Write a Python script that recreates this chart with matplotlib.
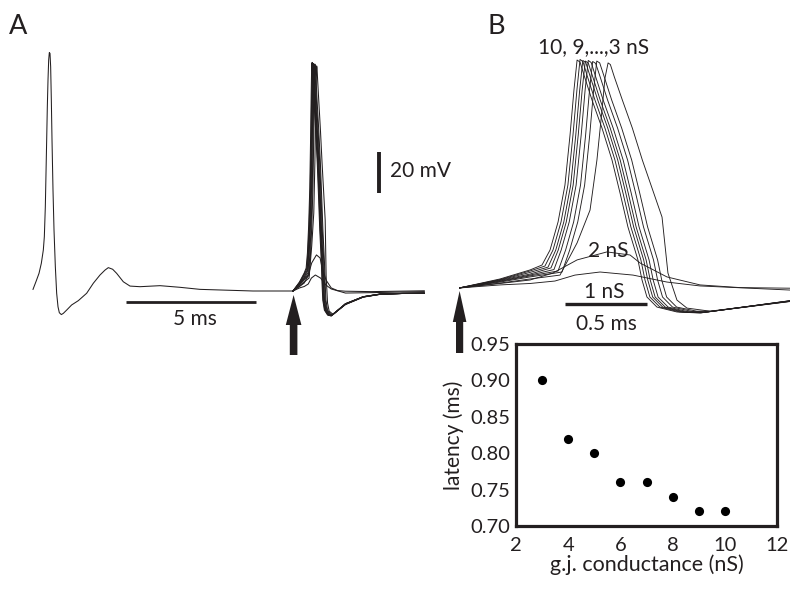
import matplotlib
matplotlib.use('Agg')
import matplotlib.pyplot as plt
from matplotlib.patches import Polygon
from matplotlib.ticker import FormatStrFormatter

plt.rcParams['font.family'] = ['Lato', 'DejaVu Sans']

# ---------------- data ----------------
# presynaptic-like trace in panel A (time ms, membrane potential mV)
PRE_T = [0.000, 0.115, 0.231, 0.320, 0.397, 0.436, 0.474, 0.500, 0.526, 0.551, 0.577, 0.603, 0.628,
         0.654, 0.679, 0.705, 0.731, 0.769, 0.808, 0.859, 0.910, 0.962, 1.013, 1.090, 1.167,
         1.295, 1.487, 1.744, 2.064, 2.321, 2.577, 2.769, 2.897, 3.064, 3.218, 3.474, 3.731,
         4.115, 4.885, 5.654, 6.423, 8.46, 10.0]
PRE_V = [-59.2, -55.4, -51.4, -46.5, -40.0, -33.5, -18.9, -2.6, 13.7, 29.9, 42.9, 52.7, 56.3,
         55.9, 49.4, 33.2, 13.7, -10.7, -30.2, -48.1, -61.1, -67.7, -70.6, -71.5, -70.9,
         -69.3, -66.8, -64.7, -61.1, -56.2, -52.2, -49.8, -48.6, -49.4, -51.4, -55.5, -57.6,
         -57.9, -57.4, -58.2, -59.2, -60.0, -60.0]

# responses for gap-junction conductances 10 ... 1 nS
T10 = [10.000, 10.250, 10.433, 10.506, 10.555, 10.604, 10.646, 10.677, 10.701, 10.720, 10.738, 10.762, 10.811, 10.872,
       10.933, 10.982, 11.030, 11.091, 11.116, 11.146, 11.207, 11.329, 11.470, 12.018, 12.70, 13.35, 14.20, 15.05]
V10 = [-60.0, -55.6, -51.2, -48.8, -41.5, -27.8, -9.8, 14.6, 36.6, 51.2, 50.2, 43.9, 31.7, 18.0,
       2.4, -13.7, -30.2, -46.3, -56.1, -64.4, -69.3, -71.7, -72.2, -66.3, -62.8, -61.5, -61.2, -61.1]
T9 = [10.000, 10.250, 10.433, 10.524, 10.573, 10.622, 10.664, 10.695, 10.719, 10.738, 10.756, 10.780, 10.829, 10.890,
      10.951, 11.000, 11.048, 11.109, 11.134, 11.164, 11.225, 11.347, 11.475, 12.018, 12.70, 13.35, 14.20, 15.05]
V9 = [-60.0, -55.9, -51.7, -49.3, -41.5, -27.8, -9.8, 14.6, 36.6, 51.5, 50.4, 43.9, 31.7, 18.0,
      2.4, -13.7, -30.2, -46.3, -56.1, -64.4, -69.3, -71.7, -72.1, -66.2, -62.8, -61.5, -61.2, -61.1]
T8 = [10.000, 10.250, 10.433, 10.543, 10.590, 10.639, 10.681, 10.712, 10.736, 10.755, 10.773, 10.797, 10.846, 10.907,
      10.968, 11.017, 11.065, 11.126, 11.151, 11.181, 11.242, 11.364, 11.480, 12.018, 12.70, 13.35, 14.20, 15.05]
V8 = [-60.0, -56.1, -52.4, -49.8, -41.5, -27.8, -9.8, 14.6, 36.6, 51.0, 50.0, 43.9, 31.7, 18.0,
      2.4, -13.7, -30.2, -46.3, -56.1, -64.4, -69.3, -71.7, -72.0, -66.4, -62.9, -61.6, -61.2, -61.1]
T7 = [10.000, 10.250, 10.433, 10.561, 10.605, 10.654, 10.696, 10.727, 10.751, 10.770, 10.788, 10.812, 10.861, 10.922,
      10.983, 11.032, 11.080, 11.141, 11.166, 11.196, 11.257, 11.379, 11.490, 12.018, 12.70, 13.35, 14.20, 15.05]
V7 = [-60.0, -56.3, -53.2, -50.2, -41.5, -27.8, -9.8, 14.6, 36.6, 50.7, 49.8, 43.9, 31.7, 18.0,
      2.4, -13.7, -30.2, -46.3, -56.1, -64.4, -69.3, -71.7, -71.9, -66.2, -62.8, -61.5, -61.1, -61.0]
T6 = [10.000, 10.250, 10.433, 10.579, 10.623, 10.672, 10.714, 10.745, 10.769, 10.788, 10.806, 10.830, 10.879, 10.940,
      11.001, 11.050, 11.098, 11.159, 11.184, 11.214, 11.275, 11.397, 11.500, 12.018, 12.70, 13.35, 14.20, 15.05]
V6 = [-60.0, -56.6, -53.7, -51.0, -41.5, -27.8, -9.8, 14.6, 36.6, 51.0, 50.0, 43.9, 31.7, 18.0,
      2.4, -13.7, -30.2, -46.3, -56.1, -64.4, -69.3, -71.6, -71.8, -66.5, -62.9, -61.6, -61.2, -61.1]
T5 = [10.000, 10.250, 10.433, 10.604, 10.650, 10.699, 10.741, 10.772, 10.796, 10.815, 10.833, 10.857, 10.906, 10.967,
      11.028, 11.077, 11.125, 11.186, 11.211, 11.241, 11.302, 11.424, 11.520, 12.018, 12.70, 13.35, 14.20, 15.05]
V5 = [-60.0, -56.8, -54.1, -51.7, -41.5, -27.8, -9.8, 14.6, 36.6, 50.5, 49.6, 43.9, 31.7, 18.0,
      2.4, -13.7, -30.2, -46.3, -56.1, -64.4, -69.3, -71.5, -71.6, -66.3, -62.8, -61.5, -61.2, -61.0]
T4 = [10.000, 10.250, 10.433, 10.628, 10.675, 10.724, 10.766, 10.797, 10.821, 10.840, 10.858, 10.882, 10.931, 10.992,
      11.053, 11.102, 11.150, 11.211, 11.236, 11.266, 11.327, 11.449, 11.550, 12.018, 12.70, 13.35, 14.20, 15.05]
V4 = [-60.0, -57.1, -54.6, -52.2, -41.5, -27.8, -9.8, 14.6, 36.6, 50.7, 49.8, 43.9, 31.7, 18.0,
      2.4, -13.7, -30.2, -46.3, -56.1, -64.4, -69.3, -71.3, -71.3, -66.6, -63.0, -61.6, -61.2, -61.1]
T3 = [10.000, 10.250, 10.433, 10.616, 10.720, 10.799, 10.841, 10.872, 10.890, 10.909, 10.923, 10.947, 10.996,
      11.057, 11.118, 11.238, 11.274, 11.329, 11.390, 11.530, 12.018, 12.70, 13.35, 14.20, 15.05]
V3 = [-60.0, -57.6, -55.6, -53.7, -38.0, -22.0, 2.4, 26.8, 42.4, 49.8, 49.0, 43.0, 31.7,
      18.0, 2.4, -25.4, -52.7, -65.9, -69.8, -71.3, -66.5, -62.9, -61.6, -61.2, -61.1]
T2 = [10.000, 10.250, 10.433, 10.573, 10.720, 10.902, 11.043, 11.104, 11.268, 11.470, 11.713, 12.018, 13.00, 15.05]
V2 = [-60.0, -57.8, -56.1, -52.7, -46.3, -42.4, -43.9, -47.8, -54.6, -58.5, -59.8, -60.1, -60.3, -59.9]
T1 = [10.000, 10.250, 10.433, 10.585, 10.707, 10.860, 11.061, 11.268, 11.470, 12.018, 13.00, 15.05]
V1 = [-60.0, -58.5, -57.8, -56.6, -53.7, -52.2, -53.7, -57.1, -59.0, -61.0, -60.8, -60.3]

# latency vs gap-junction conductance
GJ_NS = [3, 4, 5, 6, 7, 8, 9, 10]
LATENCY_MS = [0.90, 0.82, 0.80, 0.76, 0.76, 0.74, 0.72, 0.72]
X_TICKS = [2, 4, 6, 8, 10, 12]
Y_TICKS = [0.70, 0.75, 0.80, 0.85, 0.90, 0.95]

TRACES = [(T10, V10), (T9, V9), (T8, V8), (T7, V7), (T6, V6), (T5, V5), (T4, V4), (T3, V3), (T2, V2), (T1, V1)]

# ---------------- layout ----------------
W, H = 800, 591
fig = plt.figure(figsize=(8, 5.91), dpi=100)


def rect(x0, x1, y0, y1):
    return [x0 / W, 1 - y1 / H, (x1 - x0) / W, (y1 - y0) / H]


INK = '#231f20'
LW = 0.75
FS = 15

# Panel A traces
axA = fig.add_axes(rect(20, 440, 30, 360))
axA.plot(PRE_T, PRE_V, color=INK, lw=LW)
for t, v in TRACES:
    axA.plot(t, v, color=INK, lw=LW)
axA.set_xlim((20 - 33) / 26, (440 - 33) / 26)
axA.set_ylim(-60 + (291 - 360) / 2.05, -60 + (291 - 30) / 2.05)
axA.axis('off')

# Panel B traces (time-expanded view)
axB = fig.add_axes(rect(459, 790, 30, 360))
for t, v in TRACES:
    axB.plot(t, v, color=INK, lw=0.65)
axB.set_xlim(10.0, 10 + (790 - 459) / 164)
axB.set_ylim(-60 + (288 - 360) / 2.05, -60 + (288 - 30) / 2.05)
axB.axis('off')

# Scatter
axC = fig.add_axes(rect(516, 777, 344, 526))
axC.plot(GJ_NS, LATENCY_MS, 'o', color='black', ms=6.6, mec='none')
axC.set_xlim(2, 12)
axC.set_ylim(0.70, 0.95)
axC.set_xticks(X_TICKS)
axC.set_yticks(Y_TICKS)
axC.yaxis.set_major_formatter(FormatStrFormatter('%.2f'))
axC.tick_params(length=0, labelsize=14.5, colors=INK)
axC.tick_params(axis='x', pad=8)
axC.tick_params(axis='y', pad=4)
for s in axC.spines.values():
    s.set_linewidth(2.3)
    s.set_color(INK)
axC.set_xlabel('g.j. conductance (nS)', fontsize=15.5, color=INK, labelpad=0)
axC.set_ylabel('latency (ms)', fontsize=15, color=INK, labelpad=5)

# Overlay in pixel coordinates for annotations
ov = fig.add_axes([0, 0, 1, 1])
ov.set_xlim(0, W)
ov.set_ylim(H, 0)
ov.axis('off')


def arrow(x, tip, head_base, bottom, head_hw, shaft_hw):
    pts = [(x, tip), (x + head_hw, head_base), (x + shaft_hw, head_base), (x + shaft_hw, bottom),
           (x - shaft_hw, bottom), (x - shaft_hw, head_base), (x - head_hw, head_base)]
    ov.add_patch(Polygon(pts, closed=True, color=INK, lw=0))


arrow(293.6, 295, 325, 355, 7.8, 3.8)
arrow(459.6, 291, 322, 353, 6.8, 3.6)

# scale bars
ov.plot([126, 256], [302, 302], color=INK, lw=2.0, solid_capstyle='butt')
ov.text(195, 325, '5 ms', fontsize=FS, ha='center', va='baseline', color=INK)
ov.plot([379, 379], [152, 193], color=INK, lw=2.8, solid_capstyle='butt')
ov.text(390, 177, '20 mV', fontsize=FS, ha='left', va='baseline', color=INK)
ov.plot([565, 647], [304, 304], color=INK, lw=2.4, solid_capstyle='butt')
ov.text(606, 330, '0.5 ms', fontsize=FS, ha='center', va='baseline', color=INK)

# panel-B labels
ov.text(594, 53, '10, 9,...,3 nS', fontsize=FS, ha='center', va='baseline', color=INK)
ov.text(608, 257, '2 nS', fontsize=FS, ha='center', va='baseline', color=INK)
ov.text(604, 298, '1 nS', fontsize=FS, ha='center', va='baseline', color=INK)

# panel letters
ov.text(9, 34, 'A', fontsize=19.5, ha='left', va='baseline', color=INK)
ov.text(488, 34, 'B', fontsize=19.5, ha='left', va='baseline', color=INK)

fig.savefig('out.png', dpi=100)
